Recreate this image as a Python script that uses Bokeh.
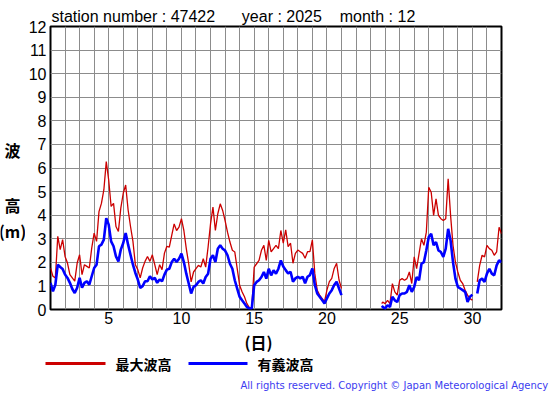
import numpy as np
from bokeh.plotting import figure
from bokeh.layouts import column, row
from bokeh.models import Range1d, FixedTicker, Title
from bokeh.core.properties import value
from bokeh.embed import file_html
from bokeh.resources import INLINE

# ---- data (day of month, wave height in m), sampled every 4 hours ----
seg1_days = list(np.round(1 + np.arange(121) / 6, 4))          # 1.0 .. 21.0
seg2_days = [23.77] + list(np.round(23.8333 + np.arange(38) / 6, 4))  # 23.77 .. 30.0
seg3_days = list(np.round(30.3333 + np.arange(11) / 6, 4))     # 30.33 .. 32.0

max_wave_seg1 = [
    1.76, 1.41, 1.34, 3.10, 2.54, 2.96,
    2.25, 1.97, 1.48, 1.34, 1.20, 1.97,
    2.32, 1.48, 1.90, 1.83, 1.76, 2.60,
    3.24, 2.89, 4.15, 4.50, 5.07, 6.27,
    5.49, 4.37, 4.50, 3.52, 3.31, 4.30,
    4.93, 5.28, 4.23, 3.52, 2.89, 1.90,
    1.69, 1.34, 1.76, 2.04, 2.25, 2.04,
    2.32, 1.90, 1.48, 1.90, 1.69, 2.39,
    2.68, 2.65, 3.14, 3.63, 3.35, 3.49,
    3.85, 3.35, 2.58, 1.94, 1.17, 1.59,
    1.73, 1.87, 1.80, 2.15, 1.80, 2.65,
    3.63, 4.34, 3.35, 4.06, 4.48, 4.20,
    3.77, 3.28, 2.86, 2.51, 2.44, 1.73,
    1.03, 0.75, 0.54, 0.25, 0.08, 0.04,
    1.80, 1.94, 2.08, 2.51, 2.72, 2.08,
    2.93, 2.44, 2.58, 2.72, 2.58, 3.35,
    2.81, 3.38, 2.67, 2.81, 1.96, 2.38,
    2.52, 2.45, 2.38, 2.17, 2.45, 2.45,
    2.95, 1.53, 0.82, 0.61, 0.47, 0.33,
    0.82, 1.18, 1.32, 1.74, 1.96, 1.25,
    0.89,
]
sig_wave_seg1 = [
    1.13, 0.77, 1.05, 1.90, 1.80, 1.72,
    1.48, 1.34, 1.13, 0.87, 0.70, 0.92,
    1.34, 0.92, 1.13, 1.20, 1.05, 1.41,
    1.76, 1.90, 2.68, 2.75, 2.96, 3.87,
    3.60, 2.89, 2.68, 2.25, 2.04, 2.54,
    2.82, 3.24, 2.75, 2.32, 1.90, 1.55,
    1.27, 0.92, 0.99, 1.20, 1.20, 1.41,
    1.27, 1.34, 1.13, 1.27, 1.20, 1.48,
    1.69, 1.73, 2.01, 2.15, 2.01, 2.15,
    2.37, 2.01, 1.52, 1.10, 0.68, 0.96,
    1.03, 1.17, 1.24, 1.10, 1.38, 1.52,
    2.15, 2.30, 2.01, 2.58, 2.72, 2.58,
    2.50, 2.30, 1.94, 1.73, 1.24, 0.89,
    0.54, 0.39, 0.25, 0.11, 0.04, 0.04,
    1.03, 1.17, 1.24, 1.38, 1.59, 1.31,
    1.73, 1.45, 1.66, 1.52, 1.73, 2.08,
    1.82, 1.67, 1.53, 1.60, 1.18, 1.32,
    1.39, 1.32, 1.39, 1.11, 1.39, 1.46,
    1.74, 1.04, 0.68, 0.54, 0.40, 0.26,
    0.47, 0.68, 0.82, 1.04, 1.18, 0.89,
    0.61,
]
max_wave_seg2 = [
    0.25, 0.32, 0.25, 0.39, 0.25, 1.10, 0.75, 0.61,
    1.24, 1.31, 1.24, 1.31, 1.59, 1.10,
    2.23, 1.73, 2.37, 3.00, 2.72, 3.28,
    5.18, 4.97, 3.99, 4.69, 3.99, 3.85,
    3.77, 3.85, 5.54, 3.99, 2.72, 2.01,
    1.59, 1.24, 1.10, 0.82, 0.61, 0.46,
    0.40,
]
sig_wave_seg2 = [
    0.15, 0.11, 0.04, 0.18, 0.11, 0.54, 0.39, 0.32,
    0.61, 0.68, 0.68, 0.75, 1.03, 0.75,
    0.96, 1.38, 1.24, 1.94, 2.01, 2.51,
    3.07, 3.21, 2.72, 2.86, 2.51, 2.44,
    2.23, 2.58, 3.42, 2.93, 2.01, 1.31,
    0.96, 0.89, 0.82, 0.75, 0.32, 0.54,
    0.63,
]
max_wave_seg3 = [1.17, 1.87, 2.30, 2.23, 2.72, 2.58, 2.51, 2.30, 2.44, 3.49, 3.21]
sig_wave_seg3 = [0.68, 1.24, 1.31, 1.17, 1.52, 1.73, 1.52, 1.45, 1.87, 2.08, 2.01]

x_ticks = [5, 10, 15, 20, 25, 30]
y_ticks = list(range(0, 13))
day_grid = list(range(1, 33))
series_names = ["最大波高", "有義波高"]
series_colors = ["#cc0000", "#0000ff"]
y_label_parts = ["波", "高", "(m)"]

nan = float("nan")
days = seg1_days + [nan] + seg2_days + [nan] + seg3_days
max_wave = max_wave_seg1 + [nan] + max_wave_seg2 + [nan] + max_wave_seg3
sig_wave = sig_wave_seg1 + [nan] + sig_wave_seg2 + [nan] + sig_wave_seg3

NB = "\u00a0"
cjk = "Noto Sans CJK JP"

# ---------------- main chart ----------------
p = figure(width=530, height=329, output_backend="svg", toolbar_location=None,
           x_range=Range1d(1, 32), y_range=Range1d(0, 12), title=None,
           min_border_left=22, min_border_right=54, min_border_top=26,
           min_border_bottom=20)
p.background_fill_color = "white"
p.border_fill_color = "white"
p.outline_line_color = "black"
p.outline_line_width = 2

p.xaxis.ticker = FixedTicker(ticks=x_ticks, minor_ticks=[])
p.yaxis.ticker = FixedTicker(ticks=y_ticks, minor_ticks=[])
p.xgrid.ticker = FixedTicker(ticks=day_grid, minor_ticks=[])
p.ygrid.ticker = FixedTicker(ticks=y_ticks, minor_ticks=[])
for g in (p.xgrid, p.ygrid):
    g.grid_line_color = "#8c8c8c"
    g.grid_line_width = 1
    g.grid_line_alpha = 1

for ax in (p.xaxis, p.yaxis):
    ax.axis_line_color = None
    ax.major_tick_line_color = None
    ax.minor_tick_line_color = None
    ax.major_tick_out = 0
    ax.major_tick_in = 0
    ax.minor_tick_out = 0
    ax.minor_tick_in = 0
    ax.major_label_text_font = "Liberation Sans"
    ax.major_label_text_font_size = "16px"
    ax.major_label_text_color = "black"
p.xaxis.major_label_standoff = 2
p.yaxis.major_label_standoff = 4

p.line(days, max_wave, color=series_colors[0], line_width=1.3)
p.line(days, sig_wave, color=series_colors[1], line_width=2.6)

p.title = Title(text="station number : 47422" + NB * 6 + "year : 2025" + NB * 4 + "month : 12",
                align="left", offset=1, standoff=3,
                text_font="Liberation Sans", text_font_size="16px",
                text_font_style="normal", text_color="black")

# ---------------- y-axis label strip (left) ----------------
pl = figure(width=25, height=329, output_backend="svg", toolbar_location=None,
            x_range=Range1d(0, 25), y_range=Range1d(329, 0), title=None,
            x_axis_location=None, y_axis_location=None, min_border=0)
pl.grid.visible = False
pl.outline_line_color = None
pl.background_fill_color = "white"
pl.border_fill_color = "white"
pl.text(x=[12, 12, 12], y=[143, 207, 238], text=y_label_parts,
        text_font=value(cjk), text_font_size="16px", text_font_style="bold",
        text_align="center", text_baseline="middle", text_color="black")

# ---------------- x label, legend, copyright (bottom) ----------------
pb = figure(width=555, height=66, output_backend="svg", toolbar_location=None,
            x_range=Range1d(0, 555), y_range=Range1d(66, 0), title=None,
            x_axis_location=None, y_axis_location=None, min_border=0)
pb.grid.visible = False
pb.outline_line_color = None
pb.background_fill_color = "white"
pb.border_fill_color = "white"
pb.text(x=[258], y=[12], text=["(日)"], text_font=value(cjk),
        text_font_size="16px", text_font_style="bold",
        text_align="center", text_baseline="middle", text_color="black")
pb.segment(x0=[45, 188], y0=[34, 34], x1=[105, 247], y1=[34, 34],
           line_color=series_colors, line_width=3)
pb.text(x=[115, 257], y=[34, 34], text=series_names, text_font=value(cjk),
        text_font_size="14px", text_font_style="bold",
        text_align="left", text_baseline="middle", text_color="black")
pb.text(x=[240], y=[56], text=["All rights reserved. Copyright © Japan Meteorological Agency"],
        text_font=value("DejaVu Sans"), text_font_size="10px",
        text_align="left", text_baseline="middle", text_color="#3c3cf0")

layout = column(row(pl, p, spacing=0), pb, spacing=0)
open("out.html", "w").write(file_html(layout, INLINE))
